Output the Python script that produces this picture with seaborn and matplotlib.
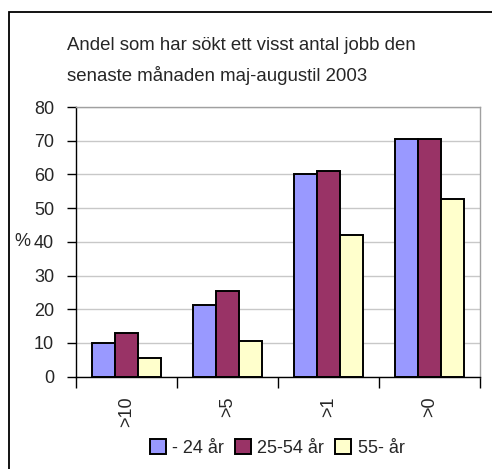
import numpy as np
import pandas as pd
import matplotlib
matplotlib.use("Agg")
import matplotlib.pyplot as plt
from matplotlib.patches import Rectangle
from matplotlib.ticker import FixedLocator
import seaborn as sns

# data
categories = [">10", ">5", ">1", ">0"]
age_groups = ["- 24 år", "25-54 år", "55- år"]
young = [10.0, 21.3, 60.0, 70.6]
middle = [13.0, 25.5, 61.0, 70.6]
older = [5.4, 10.7, 42.1, 52.7]
colors = ["#9999FF", "#993366", "#FFFFCC"]

title = "Andel som har sökt ett visst antal jobb den\nsenaste månaden maj-augustil 2003"

df = pd.DataFrame({
    "kategori": categories * 3,
    "grupp": [g for g in age_groups for _ in categories],
    "andel": young + middle + older,
})

sns.set_style("white")
plt.rcParams["font.family"] = ["Liberation Sans", "DejaVu Sans"]

fig = plt.figure(figsize=(4.92, 4.69), dpi=100)
ax = fig.add_axes([75.7 / 492, 1 - 376.7 / 469, (480 - 75.7) / 492, (376.7 - 107) / 469])

sns.barplot(data=df, x="kategori", y="andel", hue="grupp", order=categories,
            hue_order=age_groups, palette=colors, width=0.68, saturation=1,
            edgecolor="black", linewidth=1.4, ax=ax, legend=True)

ax.set_ylim(0, 80)
ax.set_xlim(-0.5, 3.5)
ax.set_yticks(np.arange(0, 81, 10))
ax.yaxis.grid(True, color="#C8C8C8", linewidth=1)
ax.set_axisbelow(True)
ax.tick_params(axis="y", labelsize=13, length=6.5, width=1, color="black", left=True, pad=9)
ax.tick_params(axis="x", which="major", labelsize=13, length=0, pad=14, labelrotation=90)
ax.xaxis.set_minor_locator(FixedLocator(np.arange(-0.5, 3.6, 1)))
ax.tick_params(axis="x", which="minor", length=8, width=1, color="black", bottom=True)
ax.set_xlabel("")
ax.set_ylabel("")

for side in ["left", "bottom"]:
    ax.spines[side].set_color("black")
    ax.spines[side].set_linewidth(1)
for side in ["top", "right"]:
    ax.spines[side].set_color("#A0A0A0")
    ax.spines[side].set_linewidth(1)

# "%" sits level with the 40 tick label
pct_y = ax.transData.transform((0, 40))[1] / fig.bbox.height
fig.text(14 / 492, pct_y, "%", fontsize=13, ha="left", va="center")

handles, labels = ax.get_legend_handles_labels()
ax.legend_.remove()
fig.legend(handles, labels, loc="center", bbox_to_anchor=(277 / 492, 1 - 448 / 469),
           ncol=3, frameon=False, fontsize=13, handlelength=0.9, handleheight=0.9,
           handletextpad=0.35, columnspacing=0.6)

fig.text(67 / 492, 1 - 61 / 469, title, fontsize=13.4, va="center", ha="left",
         linespacing=1.75)

# outer chart frame (right and bottom edges cut off in the reference)
fig.patches.append(Rectangle((9 / 492, -0.1), 1.2, (469 - 12) / 469 + 0.1,
                             transform=fig.transFigure, fill=False,
                             edgecolor="black", linewidth=1.3))

fig.savefig("out.png", dpi=100)
